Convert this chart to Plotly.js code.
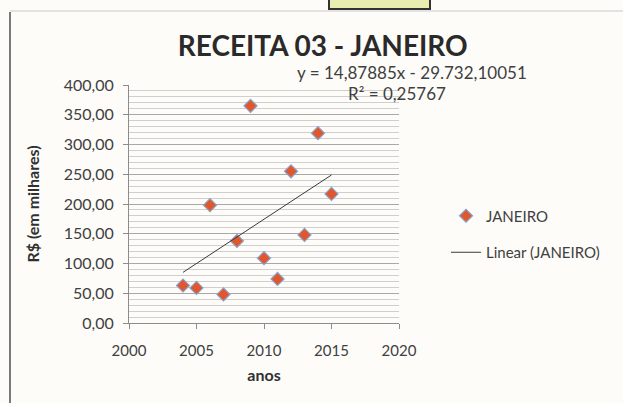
<!DOCTYPE html>
<html><head><meta charset="utf-8">
<script src="https://cdn.plot.ly/plotly-3.0.1.min.js"></script>
<style>html,body{margin:0;padding:0;background:#fdfcf9;}#c{width:623px;height:403px;}</style>
</head><body><div id="c"></div>
<script>
const years = [2004, 2005, 2006, 2007, 2008, 2009, 2010, 2011, 2012, 2013, 2014, 2015];
const janeiro = [63, 59, 198, 48, 138, 365, 109, 74, 255, 148, 319, 217];
const slope = 14.87885;
const intercept = -29732.10051;
const yTickVals = [0, 50, 100, 150, 200, 250, 300, 350, 400];
const yTickText = ['0,00','50,00','100,00','150,00','200,00','250,00','300,00','350,00','400,00'];
const xTickVals = [2000, 2005, 2010, 2015, 2020];

const xMin = Math.min(...years), xMax = Math.max(...years);
const trendX = [xMin, xMax];
const trendY = trendX.map(x => slope * x + intercept);

const font = 'Lato, "Open Sans", sans-serif';
const plotW = 623 - 129 - 224, plotH = 403 - 85 - 80;
function px(x){ return (x - 129) / plotW; }
function py(y){ return (403 - 80 - y) / plotH; }

const data = [
  {x: years, y: janeiro, type: 'scatter', mode: 'markers', name: 'JANEIRO', legendgroup: 'a',
   marker: {symbol: 'diamond', size: 10, color: '#e2562b', line: {color: '#8aa0c8', width: 1.2}}},
  {x: trendX, y: trendY, type: 'scatter', mode: 'lines', name: 'Linear (JANEIRO)', legendgroup: 'b',
   line: {color: '#3a3a3a', width: 1}}
];
const layout = {
  width: 623, height: 403,
  paper_bgcolor: '#fdfcf9', plot_bgcolor: '#fdfcf9',
  margin: {l: 129, r: 224, t: 85, b: 80},
  font: {family: font, color: '#404040', size: 15},
  title: {text: 'RECEITA 03 - JANEIRO', font: {family: font, size: 28, color: '#2a2a2a', weight: 'bold'},
          x: 0.518, xanchor: 'center', y: 0.886, yanchor: 'middle'},
  xaxis: {range: [2000, 2020], tickvals: xTickVals, showgrid: false, zeroline: false,
          showline: true, linecolor: '#8c8c8c', linewidth: 1, ticks: 'outside', ticklen: 5, tickcolor: '#8c8c8c',
          ticklabelstandoff: 9,
          tickfont: {size: 15, color: '#404040'},
          title: {text: 'anos', font: {size: 16, color: '#303030', weight: 'bold'}, standoff: 11}},
  yaxis: {range: [0, 400], tickvals: yTickVals, ticktext: yTickText, showgrid: true, gridcolor: '#a8a8a8', gridwidth: 1,
          zeroline: false, showline: true, linecolor: '#8c8c8c', linewidth: 1, ticks: 'outside', ticklen: 5, tickcolor: '#8c8c8c',
          ticklabelstandoff: 6,
          minor: {dtick: 10, showgrid: true, gridcolor: '#cfcfcf', gridwidth: 1, ticks: ''},
          tickfont: {size: 16, color: '#404040'},
          title: {text: 'R$ (em milhares)', font: {size: 16, color: '#303030', weight: 'bold'}, standoff: 20}},
  showlegend: true,
  legend: {x: px(446), y: py(234), xanchor: 'left', yanchor: 'middle', bgcolor: 'rgba(0,0,0,0)',
           font: {size: 15, color: '#404040'}, tracegroupgap: 14},
  annotations: [
    {xref: 'paper', yref: 'paper', x: px(412), y: py(72), xanchor: 'center', yanchor: 'middle', showarrow: false,
     text: 'y = 14,87885x - 29.732,10051', font: {size: 17, color: '#404040'}},
    {xref: 'paper', yref: 'paper', x: px(397), y: py(93), xanchor: 'center', yanchor: 'middle', showarrow: false,
     text: 'R² = 0,25767', font: {size: 17, color: '#404040'}}
  ],
  shapes: [
    {type: 'line', xref: 'paper', yref: 'paper', x0: px(10), x1: px(10), y0: py(12), y1: py(403), line: {color: '#7a7a7a', width: 2}},
    {type: 'line', xref: 'paper', yref: 'paper', x0: px(10), x1: px(623), y0: py(11), y1: py(11), line: {color: '#c9c9c9', width: 1}},
    {type: 'rect', xref: 'paper', yref: 'paper', x0: px(329), x1: px(430), y0: py(9), y1: py(-2), fillcolor: '#e9edb0', line: {color: '#333', width: 2}}
  ]
};
Plotly.newPlot('c', data, layout, {displayModeBar: false, staticPlot: true});
</script></body></html>
